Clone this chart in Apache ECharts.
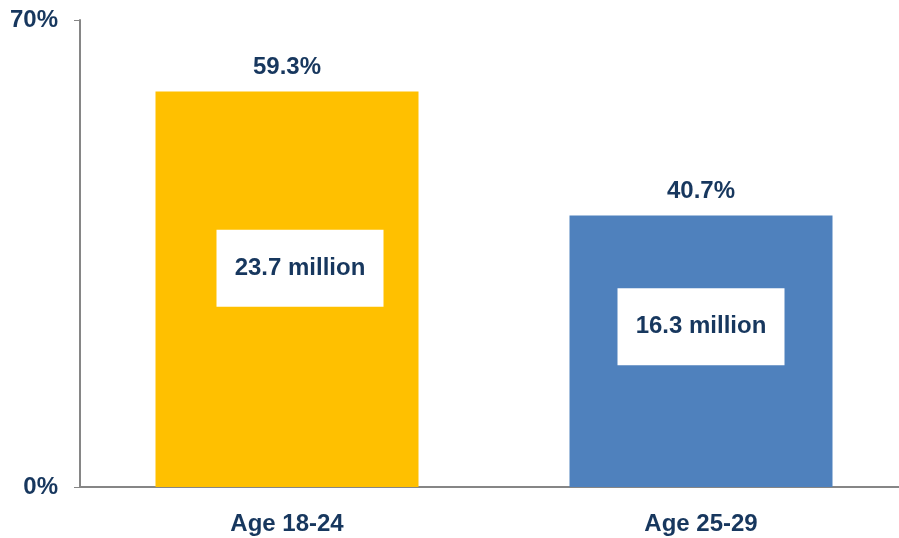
<!DOCTYPE html>
<html>
<head>
<meta charset="utf-8">
<script src="https://cdn.jsdelivr.net/npm/echarts@6/dist/echarts.min.js"></script>
<style>
  html, body { margin: 0; padding: 0; background: #fff; }
  #chart { width: 899px; height: 538px; }
</style>
</head>
<body>
<div id="chart"></div>
<script>
const categories = ['Age 18-24', 'Age 25-29']
const shares = [59.3, 40.7]
const millions = [23.7, 16.3]
const yTicks = [0, 70]

const TEXT = '#17375E'
const FONT = '"Liberation Sans", Arial, sans-serif'
const FS = 24
const barColors = ['#FFC000', '#4F81BD']
const boxOffsets = [[13, -21], [0, -24.5]]

const chart = echarts.init(document.getElementById('chart'))
chart.setOption({
  animation: false,
  textStyle: { fontFamily: FONT },
  // the plot area runs a little past the right edge, as in the original
  grid: { left: 80, width: 828, top: 20, bottom: 51, outerBoundsMode: 'none', containLabel: false },
  xAxis: {
    type: 'category', data: categories,
    axisLine: { lineStyle: { color: '#868686', width: 2 } },
    axisTick: { length: 6, lineStyle: { color: '#868686' } },
    axisLabel: { color: TEXT, fontSize: FS, fontWeight: 'bold', fontFamily: FONT, margin: 25 },
  },
  yAxis: {
    type: 'value', min: yTicks[0], max: yTicks[1], interval: yTicks[1] - yTicks[0],
    axisLine: { show: true, lineStyle: { color: '#868686', width: 2 } },
    axisTick: { show: true, length: 6, lineStyle: { color: '#868686' } },
    splitLine: { show: false },
    axisLabel: { color: TEXT, fontSize: FS, fontWeight: 'bold', fontFamily: FONT, margin: 22, formatter: '{value}%' },
  },
  series: [
    {
      type: 'bar', barWidth: 263, barGap: '-100%',
      data: shares.map((v, i) => ({ value: v, itemStyle: { color: barColors[i] } })),
      label: {
        show: true, position: 'top', distance: 12,
        color: TEXT, fontSize: FS, fontWeight: 'bold', fontFamily: FONT,
        formatter: p => p.value + '%',
      },
    },
    {
      type: 'bar', barWidth: 263, barGap: '-100%', silent: true,
      itemStyle: { color: 'rgba(0,0,0,0)' },
      data: shares.map((v, i) => ({ value: v, label: { offset: boxOffsets[i] } })),
      label: {
        show: true, position: 'inside',
        formatter: p => '{box|' + millions[p.dataIndex] + ' million}',
        rich: {
          box: {
            width: 167, height: 77, lineHeight: 77, align: 'center', verticalAlign: 'middle',
            backgroundColor: '#fff', color: TEXT, fontSize: FS, fontWeight: 'bold', fontFamily: FONT,
          },
        },
      },
    },
  ],
})
</script>
</body>
</html>
